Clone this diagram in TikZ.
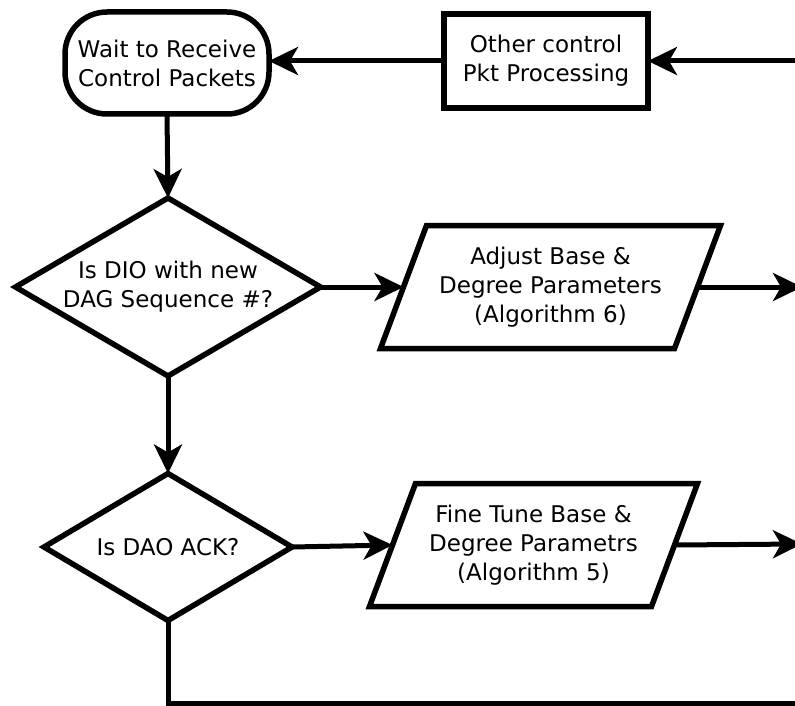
\documentclass[tikz,border=0pt]{standalone}
\usepackage{fontspec}
\setmainfont{DejaVu Sans}
\usetikzlibrary{shapes.geometric,arrows.meta}
\begin{document}
\begin{tikzpicture}[x=1pt,y=-1pt,
  base/.style={draw=black, line width=5.5pt, fill=white, align=center,
    font=\fontsize{23}{29}\selectfont, inner sep=0pt, outer sep=0pt},
  term/.style={base, rectangle, rounded corners=42pt,
    minimum width=204pt, minimum height=102pt},
  proc/.style={base, rectangle, minimum width=204pt, minimum height=94pt},
  decision/.style={base, diamond, aspect=1.7},
  % data box: the node is the mid-height rectangle, its slanted frame is drawn below
  io/.style={base, draw=none, fill=none, rectangle, minimum height=123pt},
  ioframe/.style={draw=black, line width=5.5pt, line join=miter},
  flow/.style={line width=5pt, -{Stealth[length=29pt,width=28pt,inset=8pt]}},
  plain/.style={line width=5pt, line join=miter},
]
\useasboundingbox (0,0) rectangle (795,706);

% nodes
\node[term] (wait) at (167,63) {Wait to Receive\\Control Packets};
\node[proc] (other) at (546,61) {Other control\\Pkt Processing};
\node[decision, minimum width=305pt, minimum height=178pt] (dio) at (168,287)
  {Is DIO with new\\DAG Sequence \#?};
\node[io, minimum width=294pt] (adjust) at (550.5,287)
  {Adjust Base \&\\Degree Parameters\\(Algorithm 6)};
\node[decision, minimum width=248pt, minimum height=147pt] (dao) at (168,547)
  {Is DAO ACK?};
\node[io, minimum width=282pt] (tune) at (533.5,545)
  {Fine Tune Base \&\\Degree Parametrs\\(Algorithm 5)};

% slanted frames of the data boxes
\foreach \n in {adjust,tune}
  \draw[ioframe] ([xshift=23pt]\n.north west) -- ([xshift=23pt]\n.north east)
    -- ([xshift=-23pt]\n.south east) -- ([xshift=-23pt]\n.south west) -- cycle;

% loose ends at the right border
\coordinate (inR) at (800,61);
\coordinate (outA) at (802,287);
\coordinate (outB) at (802,544);
\coordinate (loopR) at (800,703);

% connectors
\draw[flow] (inR) -- (other.east);
\draw[flow] (other.west) -- (other.west -| wait.east);
\draw[flow] (wait.south) -- (dio.north);
\draw[flow] (dio.east) -- (adjust.west);
\draw[flow] (adjust.east) -- (outA);
\draw[flow] (dio.south) -- (dao.north);
\draw[flow] (dao.east) -- (tune.west);
\draw[flow] (tune.east) -- (outB);
\draw[plain] (dao.south) |- (loopR);
\end{tikzpicture}
\end{document}
